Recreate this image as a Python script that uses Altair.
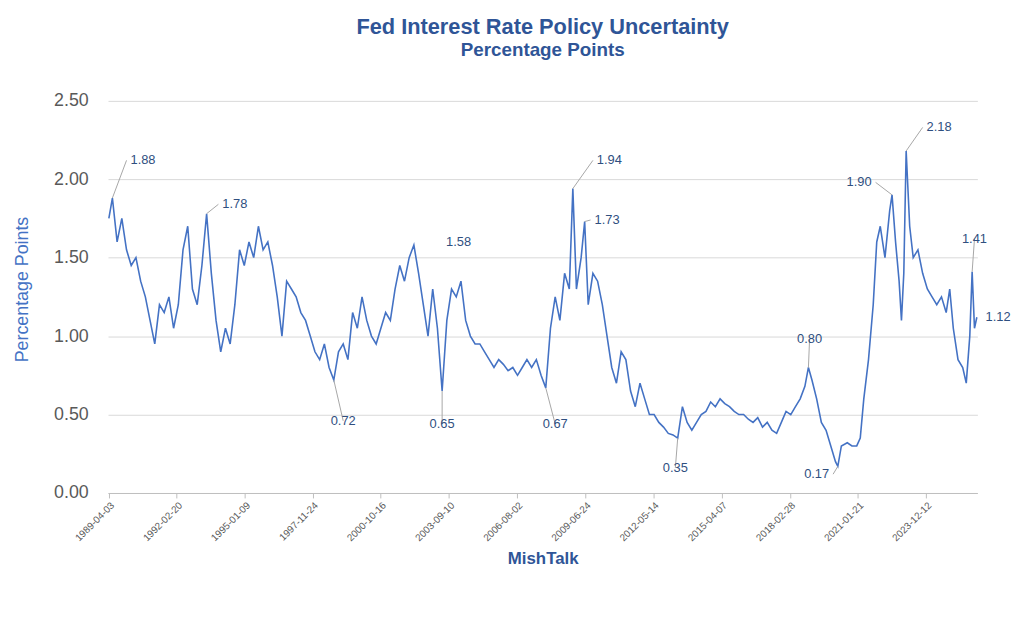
import altair as alt
import pandas as pd

years = [1989.25,1989.4,1989.6,1989.8,1990.0,1990.2,1990.4,1990.6,1990.8,1991.0,1991.2,1991.4,1991.6,1991.8,1992.0,1992.2,1992.4,1992.6,1992.8,1993.0,1993.2,1993.4,1993.6,1993.8,1994.0,1994.2,1994.4,1994.6,1994.8,1995.0,1995.2,1995.4,1995.6,1995.8,1996.0,1996.2,1996.4,1996.6,1996.8,1997.0,1997.2,1997.4,1997.6,1997.8,1998.0,1998.2,1998.4,1998.6,1998.8,1999.0,1999.2,1999.4,1999.6,1999.8,2000.0,2000.2,2000.4,2000.6,2000.8,2001.0,2001.2,2001.4,2001.6,2001.8,2002.0,2002.2,2002.4,2002.6,2002.8,2003.0,2003.2,2003.4,2003.6,2003.8,2004.0,2004.2,2004.4,2004.6,2004.8,2005.0,2005.2,2005.4,2005.6,2005.8,2006.0,2006.2,2006.4,2006.6,2006.8,2007.0,2007.2,2007.4,2007.6,2007.8,2008.0,2008.2,2008.4,2008.6,2008.8,2008.95,2009.1,2009.3,2009.45,2009.6,2009.8,2010.0,2010.2,2010.4,2010.6,2010.8,2011.0,2011.2,2011.4,2011.6,2011.8,2012.0,2012.2,2012.4,2012.6,2012.8,2013.0,2013.2,2013.4,2013.6,2013.8,2014.0,2014.2,2014.4,2014.6,2014.8,2015.0,2015.2,2015.4,2015.6,2015.8,2016.0,2016.2,2016.4,2016.6,2016.8,2017.0,2017.2,2017.4,2017.6,2017.8,2018.0,2018.2,2018.4,2018.6,2018.8,2018.95,2019.1,2019.3,2019.5,2019.7,2019.9,2020.1,2020.2,2020.35,2020.6,2020.8,2021.0,2021.15,2021.3,2021.5,2021.7,2021.85,2022.0,2022.2,2022.4,2022.5,2022.65,2022.8,2022.9,2023.0,2023.1,2023.25,2023.4,2023.6,2023.8,2024.0,2024.2,2024.4,2024.6,2024.8,2024.95,2025.1,2025.3,2025.5,2025.65,2025.8,2025.9,2026.0,2026.1]
values = [1.75,1.88,1.6,1.75,1.55,1.45,1.5,1.35,1.25,1.1,0.95,1.2,1.15,1.25,1.05,1.2,1.55,1.7,1.3,1.2,1.45,1.78,1.4,1.1,0.9,1.05,0.95,1.2,1.55,1.45,1.6,1.5,1.7,1.55,1.6,1.45,1.25,1.0,1.35,1.3,1.25,1.15,1.1,1.0,0.9,0.85,0.95,0.8,0.72,0.9,0.95,0.85,1.15,1.05,1.25,1.1,1.0,0.95,1.05,1.15,1.1,1.3,1.45,1.35,1.5,1.58,1.4,1.2,1.0,1.3,1.05,0.65,1.1,1.3,1.25,1.35,1.1,1.0,0.95,0.95,0.9,0.85,0.8,0.85,0.82,0.78,0.8,0.75,0.8,0.85,0.8,0.85,0.75,0.67,1.05,1.25,1.1,1.4,1.3,1.94,1.3,1.5,1.73,1.2,1.4,1.35,1.2,1.0,0.8,0.7,0.9,0.85,0.65,0.55,0.7,0.6,0.5,0.5,0.45,0.42,0.38,0.37,0.35,0.55,0.45,0.4,0.45,0.5,0.52,0.58,0.55,0.6,0.57,0.55,0.52,0.5,0.5,0.47,0.45,0.48,0.42,0.45,0.4,0.38,0.45,0.52,0.5,0.55,0.6,0.68,0.8,0.72,0.6,0.45,0.4,0.3,0.2,0.17,0.3,0.32,0.3,0.3,0.35,0.6,0.85,1.2,1.6,1.7,1.5,1.8,1.9,1.6,1.35,1.1,1.4,2.18,1.7,1.5,1.55,1.4,1.3,1.25,1.2,1.25,1.15,1.3,1.05,0.85,0.8,0.7,1.0,1.41,1.05,1.12]

ann_year = [1989.4,1993.4,1998.8,2002.2,2003.4,2007.8,2008.95,2009.45,2013.4,2018.95,2020.2,2022.5,2023.1,2025.9,2026.1]
ann_val = [1.88,1.78,0.72,1.58,0.65,0.67,1.94,1.73,0.35,0.80,0.17,1.90,2.18,1.41,1.12]
ann_lx = [1990.0,1993.9,1999.2,2003.4,2003.4,2008.2,2009.8,2009.7,2013.3,2019.0,2020.0,2021.8,2023.8,2026.0,2026.3]
ann_ly = [2.12,1.84,0.46,1.6,0.44,0.44,2.12,1.74,0.16,0.98,0.12,1.98,2.33,1.62,1.12]
ann_align = ["left","left","center","left","center","center","left","left","center","center","right","right","left","center","left"]
ann_lead = [1,1,1,0,1,1,1,1,1,1,1,1,1,1,0]

tick_labels = ["1989-04-03","1990-09-11","1992-02-20","1993-07-30","1995-01-09","1996-06-17","1997-11-24","1999-05-07","2000-10-16","2002-04-01","2003-09-10","2005-02-18","2006-08-02","2008-01-11","2009-06-24","2010-12-02","2012-05-14","2013-10-23","2015-04-07","2016-09-15","2018-02-28","2019-08-09","2021-01-21","2022-07-01","2023-12-12","2025-05-28"]

def ydate(y):
    base = pd.Timestamp(int(y), 1, 1)
    return base + pd.Timedelta(days=(y - int(y)) * 365.25)

df = pd.DataFrame({"date": [ydate(y) for y in years], "v": values})
ann = pd.DataFrame({
    "date": [ydate(y) for y in ann_year], "v": ann_val,
    "ldate": [ydate(y) for y in ann_lx], "lv": ann_ly,
    "label": [f"{v:.2f}" for v in ann_val], "align": ann_align, "lead": ann_lead,
})

blue = "#4472C4"
tblue = "#2F5597"
xscale = alt.Scale(domain=[pd.Timestamp("1989-03-20").isoformat(), pd.Timestamp("2026-02-15").isoformat()])
yscale = alt.Scale(domain=[0, 2.5])

line = alt.Chart(df).mark_line(color=blue, strokeWidth=1.6).encode(
    x=alt.X("date:T", scale=xscale, title="MishTalk",
            axis=alt.Axis(values=[pd.Timestamp(t).isoformat() for t in tick_labels], format="%Y-%m-%d",
                          labelAngle=-45, labelFontSize=10, labelColor="#595959", grid=False,
                          labelOverlap=False, labelFont="Liberation Sans",
                          titleFontSize=17, titleColor=tblue, titleFont="Liberation Sans", titleFontWeight="bold",
                          domainColor="#BFBFBF", tickColor="#BFBFBF", titlePadding=8)),
    y=alt.Y("v:Q", scale=yscale, title="Percentage Points",
            axis=alt.Axis(values=[0, 0.5, 1.0, 1.5, 2.0, 2.5], format=".2f", labelFontSize=18,
                          labelColor="#595959", gridColor="#D9D9D9", domain=False, ticks=False,
                          labelFont="Liberation Sans", titleFont="Liberation Sans",
                          titleFontSize=18, titleColor=blue, titleFontWeight="normal", labelPadding=20,
                          titlePadding=22)),
)

leads = alt.Chart(ann).transform_filter("datum.lead == 1").mark_rule(color="#A6A6A6", strokeWidth=1).encode(
    x="date:T", y="v:Q", x2="ldate:T", y2="lv:Q")

def txt(al, dx):
    return alt.Chart(ann).transform_filter(f"datum.align == '{al}'").mark_text(
        align=al, dx=dx, fontSize=13, color="#2F4F7F", font="Liberation Sans").encode(
        x="ldate:T", y="lv:Q", text="label:N")

chart = alt.layer(line, leads, txt("left", 4), txt("right", -4), txt("center", 0)).properties(
    width=878, height=412,
    title=alt.TitleParams("Fed Interest Rate Policy Uncertainty", subtitle="Percentage Points",
                          fontSize=22, subtitleFontSize=19, color=tblue, subtitleColor=tblue,
                          fontWeight="bold", subtitleFontWeight="bold", anchor="middle", offset=24,
                          font="Liberation Sans", subtitleFont="Liberation Sans"),
).configure_view(stroke=None, strokeWidth=0)

chart.save("out.html", embed_options={"renderer": "svg", "actions": False})
